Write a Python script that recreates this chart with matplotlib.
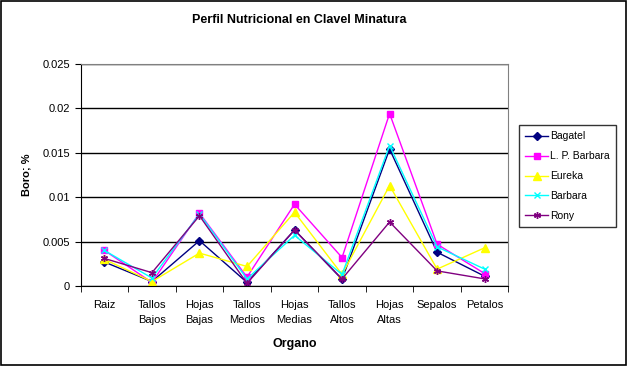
import matplotlib
matplotlib.use("Agg")
import matplotlib.pyplot as plt
from matplotlib.patches import Rectangle

plt.rcParams['font.family'] = ['Liberation Sans', 'DejaVu Sans']

categories = ["Raiz", "Tallos\nBajos", "Hojas\nBajas", "Tallos\nMedios", "Hojas\nMedias",
              "Tallos\nAltos", "Hojas\nAltas", "Sepalos", "Petalos"]
bagatel    = [0.0027, 0.0005, 0.0051, 0.0004, 0.0063, 0.00075, 0.0154, 0.0038, 0.0011]
lp_barbara = [0.0040, 0.0004, 0.0082, 0.0010, 0.0092, 0.0032, 0.0194, 0.0047, 0.0014]
eureka     = [0.0030, 0.0005, 0.0037, 0.0022, 0.0083, 0.0013, 0.0113, 0.0019, 0.0043]
barbara    = [0.0040, 0.0009, 0.0081, 0.0008, 0.0057, 0.0013, 0.0158, 0.0044, 0.0019]
rony       = [0.0031, 0.0015, 0.0079, 0.0003, 0.0063, 0.0008, 0.0072, 0.0017, 0.0008]
series_names = ["Bagatel", "L. P. Barbara", "Eureka", "Barbara", "Rony"]
yticks = [0, 0.005, 0.01, 0.015, 0.02, 0.025]
ytick_labels = ["0", "0.005", "0.01", "0.015", "0.02", "0.025"]

fig = plt.figure(figsize=(6.30, 3.68), dpi=100)
fig.patches.append(Rectangle((0.001, 0.008), 0.993, 0.99, transform=fig.transFigure,
                             fill=False, edgecolor='black', linewidth=1.2))
ax = fig.add_axes([0.128, 0.2228, 0.679, 0.604])

x = list(range(len(categories)))
styles = [
    dict(color='#000080', marker='D', markersize=4),
    dict(color='#FF00FF', marker='s', markersize=5),
    dict(color='#FFFF00', marker='^', markersize=6),
    dict(color='#00FFFF', marker='x', markersize=4, markeredgewidth=1),
    dict(color='#800080', marker=(6, 2, 0), markersize=5, markeredgewidth=1),
]
data = [bagatel, lp_barbara, eureka, barbara, rony]
for name, vals, st in zip(series_names, data, styles):
    ax.plot(x, vals, linewidth=1, label=name, **st)

ax.set_xlim(-0.5, len(categories) - 0.5)
ax.set_ylim(0, 0.025)
ax.set_yticks(yticks)
ax.set_yticklabels(ytick_labels, fontsize=8)
ax.set_xticks(x)
ax.set_xticklabels(categories, fontsize=8, linespacing=1.7)
ax.set_xticks([i - 0.5 for i in range(len(categories) + 1)], minor=True)
ax.tick_params(axis='x', which='major', length=0, pad=10)
ax.tick_params(axis='x', which='minor', length=4, direction='out')
ax.tick_params(axis='y', length=4, direction='out')
ax.yaxis.grid(True, color='black', linewidth=1)
ax.set_axisbelow(True)
for s in ['top', 'right']:
    ax.spines[s].set_color('#808080')
for s in ['left', 'bottom']:
    ax.spines[s].set_color('black')

fig.text(0.475, 0.945, "Perfil Nutricional en Clavel Minatura",
         fontsize=9, fontweight='bold', ha='center', va='center')
ax.set_ylabel("Boro; %", fontsize=8, fontweight='bold', labelpad=8)
ax.set_xlabel("Organo", fontsize=9, fontweight='bold', labelpad=9)

leg = fig.legend(loc='upper left', bbox_to_anchor=(0.824, 0.66), fontsize=7.5,
                 frameon=True, fancybox=False, edgecolor='black', borderpad=0.6,
                 labelspacing=0.95, handlelength=2.2, handletextpad=0.2,
                 borderaxespad=0)
leg.get_frame().set_linewidth(1)

fig.savefig("out.png", dpi=100)
